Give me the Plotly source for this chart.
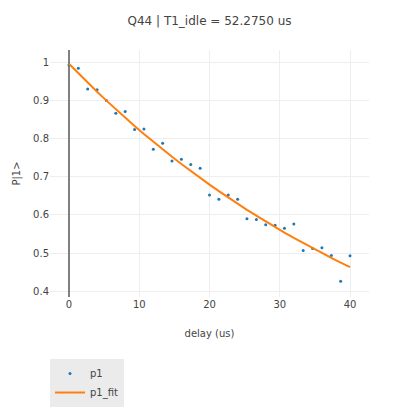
import plotly.graph_objs as go

# delay points (us)
delay = [0, 1.333, 2.667, 4, 5.333, 6.667, 8, 9.333, 10.667, 12, 13.333,
         14.667, 16, 17.333, 18.667, 20, 21.333, 22.667, 24, 25.333, 26.667,
         28, 29.333, 30.667, 32, 33.333, 34.667, 36, 37.333, 38.667, 40]

# measured excited state population
p1 = [0.993, 0.984, 0.930, 0.928, 0.900, 0.866, 0.871, 0.824, 0.825, 0.772,
      0.788, 0.741, 0.746, 0.732, 0.722, 0.652, 0.641, 0.652, 0.641, 0.590,
      0.588, 0.574, 0.573, 0.565, 0.576, 0.507, 0.512, 0.514, 0.494, 0.426,
      0.493]

# fitted decay
p1_fit = [0.9960, 0.9709, 0.9465, 0.9226, 0.8994, 0.8767, 0.8547, 0.8331,
          0.8121, 0.7917, 0.7717, 0.7523, 0.7334, 0.7149, 0.6969, 0.6793,
          0.6622, 0.6455, 0.6293, 0.6134, 0.5980, 0.5829, 0.5682, 0.5539,
          0.5400, 0.5264, 0.5131, 0.5002, 0.4876, 0.4753, 0.4633]

scat = go.Scatter(x=delay, y=p1, mode='markers', name='p1',
                  marker=dict(size=3, color='#1f77b4'))

fit = go.Scatter(x=delay, y=p1_fit, mode='lines', name='p1_fit',
                 line=dict(color='#ff7f0e', width=2))

# page body adds 8px around the plot div, so the figure is a bit smaller
layout = go.Layout(
    template='none',
    width=403, height=403,
    margin=dict(l=42, r=42, t=42, b=114),
    font=dict(family='Verdana, DejaVu Sans, sans-serif', size=10, color='#444'),
    title=dict(text='Q44 | T1_idle = 52.2750 us', x=0.5, y=0.9685,
               yanchor='middle', font=dict(size=12)),
    xaxis=dict(title=dict(text='delay (us)', font=dict(size=10)),
               range=[-2.7, 42.7], automargin=False,
               gridcolor='#eee', zerolinecolor='#808080', zerolinewidth=1.5),
    yaxis=dict(title=dict(text='P|1>', font=dict(size=10)),
               range=[0.385, 1.032], automargin=False,
               gridcolor='#eee', zeroline=False),
    legend=dict(x=0, y=0.129, xanchor='left', yanchor='top', yref='container',
                bgcolor='#ebebeb', font=dict(size=10)),
    showlegend=True,
)

fig = go.Figure(data=[scat, fit], layout=layout)
fig.write_html('out.html')
